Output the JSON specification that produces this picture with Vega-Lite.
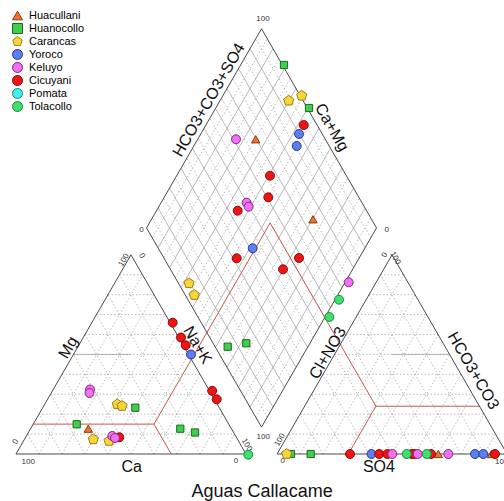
{
  "$schema": "https://vega.github.io/schema/vega-lite/v6.json",
  "width": 504,
  "height": 501,
  "autosize": "none",
  "padding": 0,
  "background": "white",
  "config": {"view": {"stroke": null}},
  "datasets": {
    "dotgrid": [
      {"x":5,"y":8.66,"x2":95,"y2":8.66},{"x":10,"y":17.32,"x2":90,"y2":17.32},{"x":15,"y":25.98,"x2":85,"y2":25.98},{"x":20,"y":34.64,"x2":80,"y2":34.64},{"x":25,"y":43.3,"x2":75,"y2":43.3},{"x":30,"y":51.96,"x2":70,"y2":51.96},{"x":35,"y":60.62,"x2":65,"y2":60.62},{"x":40,"y":69.28,"x2":60,"y2":69.28},{"x":45,"y":77.94,"x2":55,"y2":77.94},
      {"x":10,"y":0,"x2":5,"y2":8.66},{"x":20,"y":0,"x2":10,"y2":17.32},{"x":30,"y":0,"x2":15,"y2":25.98},{"x":40,"y":0,"x2":20,"y2":34.64},{"x":50,"y":0,"x2":25,"y2":43.3},{"x":60,"y":0,"x2":30,"y2":51.96},{"x":70,"y":0,"x2":35,"y2":60.62},{"x":80,"y":0,"x2":40,"y2":69.28},{"x":90,"y":0,"x2":45,"y2":77.94},
      {"x":10,"y":0,"x2":55,"y2":77.94},{"x":20,"y":0,"x2":60,"y2":69.28},{"x":30,"y":0,"x2":65,"y2":60.62},{"x":40,"y":0,"x2":70,"y2":51.96},{"x":50,"y":0,"x2":75,"y2":43.3},{"x":60,"y":0,"x2":80,"y2":34.64},{"x":70,"y":0,"x2":85,"y2":25.98},{"x":80,"y":0,"x2":90,"y2":17.32},{"x":90,"y":0,"x2":95,"y2":8.66},
      {"x":118.5,"y":8.66,"x2":208.5,"y2":8.66},{"x":123.5,"y":17.32,"x2":203.5,"y2":17.32},{"x":128.5,"y":25.98,"x2":198.5,"y2":25.98},{"x":133.5,"y":34.64,"x2":193.5,"y2":34.64},{"x":138.5,"y":43.3,"x2":188.5,"y2":43.3},{"x":143.5,"y":51.96,"x2":183.5,"y2":51.96},{"x":148.5,"y":60.62,"x2":178.5,"y2":60.62},{"x":153.5,"y":69.28,"x2":173.5,"y2":69.28},{"x":158.5,"y":77.94,"x2":168.5,"y2":77.94},
      {"x":123.5,"y":0,"x2":118.5,"y2":8.66},{"x":133.5,"y":0,"x2":123.5,"y2":17.32},{"x":143.5,"y":0,"x2":128.5,"y2":25.98},{"x":153.5,"y":0,"x2":133.5,"y2":34.64},{"x":163.5,"y":0,"x2":138.5,"y2":43.3},{"x":173.5,"y":0,"x2":143.5,"y2":51.96},{"x":183.5,"y":0,"x2":148.5,"y2":60.62},{"x":193.5,"y":0,"x2":153.5,"y2":69.28},{"x":203.5,"y":0,"x2":158.5,"y2":77.94},
      {"x":123.5,"y":0,"x2":168.5,"y2":77.94},{"x":133.5,"y":0,"x2":173.5,"y2":69.28},{"x":143.5,"y":0,"x2":178.5,"y2":60.62},{"x":153.5,"y":0,"x2":183.5,"y2":51.96},{"x":163.5,"y":0,"x2":188.5,"y2":43.3},{"x":173.5,"y":0,"x2":193.5,"y2":34.64},{"x":183.5,"y":0,"x2":198.5,"y2":25.98},{"x":193.5,"y":0,"x2":203.5,"y2":17.32},{"x":203.5,"y":0,"x2":208.5,"y2":8.66},
      {"x":104.25,"y":16.02,"x2":154.25,"y2":102.62},{"x":99.25,"y":24.68,"x2":149.25,"y2":111.28},{"x":94.25,"y":33.34,"x2":144.25,"y2":119.94},{"x":89.25,"y":42.0,"x2":139.25,"y2":128.6},{"x":84.25,"y":50.66,"x2":134.25,"y2":137.26},{"x":79.25,"y":59.32,"x2":129.25,"y2":145.92},{"x":74.25,"y":67.98,"x2":124.25,"y2":154.58},{"x":69.25,"y":76.64,"x2":119.25,"y2":163.24},{"x":64.25,"y":85.3,"x2":114.25,"y2":171.9},{"x":59.25,"y":93.96,"x2":109.25,"y2":180.56},
      {"x":109.25,"y":16.02,"x2":59.25,"y2":102.62},{"x":114.25,"y":24.68,"x2":64.25,"y2":111.28},{"x":119.25,"y":33.34,"x2":69.25,"y2":119.94},{"x":124.25,"y":42.0,"x2":74.25,"y2":128.6},{"x":129.25,"y":50.66,"x2":79.25,"y2":137.26},{"x":134.25,"y":59.32,"x2":84.25,"y2":145.92},{"x":139.25,"y":67.98,"x2":89.25,"y2":154.58},{"x":144.25,"y":76.64,"x2":94.25,"y2":163.24},{"x":149.25,"y":85.3,"x2":99.25,"y2":171.9},{"x":154.25,"y":93.96,"x2":104.25,"y2":180.56}
    ],
    "solidgrid": [
      {"x":101.75,"y":20.35,"x2":151.75,"y2":106.95},{"x":96.75,"y":29.01,"x2":146.75,"y2":115.61},{"x":91.75,"y":37.67,"x2":141.75,"y2":124.27},{"x":86.75,"y":46.33,"x2":136.75,"y2":132.93},{"x":81.75,"y":54.99,"x2":131.75,"y2":141.59},{"x":76.75,"y":63.65,"x2":126.75,"y2":150.25},{"x":71.75,"y":72.31,"x2":121.75,"y2":158.91},{"x":66.75,"y":80.97,"x2":116.75,"y2":167.57},{"x":61.75,"y":89.63,"x2":111.75,"y2":176.23},
      {"x":111.75,"y":20.35,"x2":61.75,"y2":106.95},{"x":116.75,"y":29.01,"x2":66.75,"y2":115.61},{"x":121.75,"y":37.67,"x2":71.75,"y2":124.27},{"x":126.75,"y":46.33,"x2":76.75,"y2":132.93},{"x":131.75,"y":54.99,"x2":81.75,"y2":141.59},{"x":136.75,"y":63.65,"x2":86.75,"y2":150.25},{"x":141.75,"y":72.31,"x2":91.75,"y2":158.91},{"x":146.75,"y":80.97,"x2":96.75,"y2":167.57},{"x":151.75,"y":89.63,"x2":101.75,"y2":176.23},
      {"x":25,"y":43.3,"x2":50,"y2":43.3},{"x":163.5,"y":43.3,"x2":188.5,"y2":43.3}
    ],
    "outline": [
      {"x":0,"y":0,"x2":100,"y2":0},{"x":0,"y":0,"x2":50,"y2":86.6},{"x":100,"y":0,"x2":50,"y2":86.6},
      {"x":113.5,"y":0,"x2":213.5,"y2":0},{"x":113.5,"y":0,"x2":163.5,"y2":86.6},{"x":213.5,"y":0,"x2":163.5,"y2":86.6},
      {"x":106.75,"y":11.69,"x2":56.75,"y2":98.29},{"x":56.75,"y":98.29,"x2":106.75,"y2":184.89},{"x":106.75,"y":184.89,"x2":156.75,"y2":98.29},{"x":156.75,"y":98.29,"x2":106.75,"y2":11.69}
    ],
    "red": [
      {"x":7.5,"y":12.99,"x2":60,"y2":12.99},{"x":60,"y":12.99,"x2":67.5,"y2":0},{"x":60,"y":12.99,"x2":110.5,"y2":100.45},
      {"x":156.5,"y":20.78,"x2":201.5,"y2":20.78},{"x":156.5,"y":20.78,"x2":144.5,"y2":0},{"x":156.5,"y":20.78,"x2":110.5,"y2":100.45}
    ],
    "titlesUp": [
      {"t":"HCO3+CO3+SO4","x":83.9,"y":153.9},{"t":"Mg","x":22.7,"y":46.3},{"t":"Cl+NO3","x":135.6,"y":43.9}
    ],
    "titlesDown": [
      {"t":"Ca+Mg","x":137.3,"y":142.0},{"t":"Na+K","x":78.9,"y":47.4},{"t":"HCO3+CO3","x":198.8,"y":36.2}
    ],
    "titlesFlat": [
      {"t":"Ca","x":50.3,"y":-5.5},{"t":"SO4","x":157.8,"y":-5.5}
    ],
    "mainTitle": [
      {"t":"Aguas Callacame","x":107.0,"y":-16.5}
    ],
    "ticksFlat": [
      {"t":"100","x":5.3,"y":-3.3},{"t":"0","x":95.6,"y":-3.0},{"t":"0","x":116.0,"y":-3.0},{"t":"100","x":211.2,"y":-3.3},
      {"t":"100","x":107.4,"y":189.1},{"t":"0","x":54.6,"y":97.4},{"t":"0","x":161.2,"y":97.4},{"t":"100","x":107.5,"y":7.3}
    ],
    "ticksUp": [
      {"t":"0","x":0,"y":5.3},{"t":"100","x":47.0,"y":84.3},{"t":"100","x":114.8,"y":6.1},{"t":"0","x":160.4,"y":86.5}
    ],
    "ticksDown": [
      {"t":"0","x":54.6,"y":86.1},{"t":"100","x":100.3,"y":3.9},{"t":"100","x":164.8,"y":85.1}
    ],
    "samples": [
      {"g":"Huacullani","x":104.22,"y":136.83},{"g":"Huacullani","x":129.13,"y":102.04},{"g":"Huacullani","x":31.43,"y":11.0},{"g":"Huacullani","x":183.61,"y":0},{"g":"Huacullani","x":206.74,"y":0},
      {"g":"Huanocollo","x":116.52,"y":169.13},{"g":"Huanocollo","x":127.39,"y":150.43},{"g":"Huanocollo","x":92.04,"y":46.65},{"g":"Huanocollo","x":100.13,"y":48.13},{"g":"Huanocollo","x":51.87,"y":20.13},{"g":"Huanocollo","x":26.39,"y":12.91},{"g":"Huanocollo","x":71.43,"y":11.0},{"g":"Huanocollo","x":77.83,"y":9.35},{"g":"Huanocollo","x":119.57,"y":0},{"g":"Huanocollo","x":128.13,"y":0},
      {"g":"Carancas","x":124.22,"y":155.78},{"g":"Carancas","x":118.57,"y":153.61},{"g":"Carancas","x":75.22,"y":74.22},{"g":"Carancas","x":77.52,"y":69.13},{"g":"Carancas","x":44.04,"y":21.61},{"g":"Carancas","x":46.09,"y":20.87},{"g":"Carancas","x":33.61,"y":6.39},{"g":"Carancas","x":40.43,"y":5.65},{"g":"Carancas","x":117.7,"y":0},
      {"g":"Yoroco","x":123.04,"y":139.13},{"g":"Yoroco","x":122.04,"y":133.91},{"g":"Yoroco","x":102.91,"y":89.43},{"g":"Yoroco","x":76.09,"y":43.26},{"g":"Yoroco","x":154.57,"y":0},{"g":"Yoroco","x":199.57,"y":0},{"g":"Yoroco","x":203.17,"y":0},
      {"g":"Cicuyani","x":125.09,"y":143.04},{"g":"Cicuyani","x":110.43,"y":121.0},{"g":"Cicuyani","x":109.7,"y":111.61},{"g":"Cicuyani","x":96.39,"y":105.78},{"g":"Cicuyani","x":95.96,"y":85.09},{"g":"Cicuyani","x":123.04,"y":85.22},{"g":"Cicuyani","x":116.09,"y":80.3},{"g":"Cicuyani","x":68.13,"y":57.09},{"g":"Cicuyani","x":71.74,"y":50.65},{"g":"Cicuyani","x":73.78,"y":47.26},{"g":"Cicuyani","x":85.3,"y":27.48},{"g":"Cicuyani","x":87.26,"y":23.78},{"g":"Cicuyani","x":44.91,"y":7.26},{"g":"Cicuyani","x":145.22,"y":0},{"g":"Cicuyani","x":157.91,"y":0},{"g":"Cicuyani","x":161.52,"y":0},{"g":"Cicuyani","x":172.04,"y":0},{"g":"Cicuyani","x":173.26,"y":0},{"g":"Cicuyani","x":180.43,"y":0},{"g":"Cicuyani","x":208.26,"y":0},
      {"g":"Keluyo","x":95.65,"y":136.83},{"g":"Keluyo","x":100.3,"y":109.26},{"g":"Keluyo","x":101.17,"y":107.52},{"g":"Keluyo","x":144.65,"y":74.65},{"g":"Keluyo","x":32.17,"y":28.04},{"g":"Keluyo","x":31.96,"y":26.52},{"g":"Keluyo","x":41.87,"y":7.83},{"g":"Keluyo","x":43.04,"y":6.96},{"g":"Keluyo","x":163.61,"y":0},{"g":"Keluyo","x":174.65,"y":0},{"g":"Keluyo","x":187.96,"y":0},
      {"g":"Tolacollo","x":140.43,"y":67.09},{"g":"Tolacollo","x":136.22,"y":59.57},{"g":"Tolacollo","x":101.0,"y":-0.3},{"g":"Tolacollo","x":169.87,"y":0},{"g":"Tolacollo","x":178.57,"y":0}
    ]
  },
  "encoding": {
    "x": {"field": "x", "type": "quantitative", "axis": null, "scale": {"domain": [-6.9565, 212.1739], "nice": false, "zero": false}},
    "y": {"field": "y", "type": "quantitative", "axis": null, "scale": {"domain": [-20.4348, 197.3913], "nice": false, "zero": false}}
  },
  "layer": [
    {"data": {"name": "dotgrid"}, "mark": {"type": "rule", "color": "#a8a8a8", "strokeWidth": 0.8, "strokeDash": [1.5, 2]},
     "encoding": {"x2": {"field": "x2"}, "y2": {"field": "y2"}}},
    {"data": {"name": "solidgrid"}, "mark": {"type": "rule", "color": "#9a9a9a", "strokeWidth": 0.7},
     "encoding": {"x2": {"field": "x2"}, "y2": {"field": "y2"}}},
    {"data": {"name": "red"}, "mark": {"type": "rule", "color": "#c9554f", "strokeWidth": 1},
     "encoding": {"x2": {"field": "x2"}, "y2": {"field": "y2"}}},
    {"data": {"name": "outline"}, "mark": {"type": "rule", "color": "#4a4a4a", "strokeWidth": 1},
     "encoding": {"x2": {"field": "x2"}, "y2": {"field": "y2"}}},
    {"data": {"name": "titlesUp"}, "mark": {"type": "text", "angle": -60, "font": "Liberation Sans", "fontSize": 16, "color": "#111", "align": "center", "baseline": "middle"},
     "encoding": {"text": {"field": "t"}}},
    {"data": {"name": "titlesDown"}, "mark": {"type": "text", "angle": 60, "font": "Liberation Sans", "fontSize": 16, "color": "#111", "align": "center", "baseline": "middle"},
     "encoding": {"text": {"field": "t"}}},
    {"data": {"name": "titlesFlat"}, "mark": {"type": "text", "font": "Liberation Sans", "fontSize": 16, "color": "#111", "align": "center", "baseline": "middle"},
     "encoding": {"text": {"field": "t"}}},
    {"data": {"name": "mainTitle"}, "mark": {"type": "text", "font": "Liberation Sans", "fontSize": 18, "color": "#111", "align": "center", "baseline": "middle"},
     "encoding": {"text": {"field": "t"}}},
    {"data": {"name": "ticksFlat"}, "mark": {"type": "text", "font": "Liberation Sans", "fontSize": 8, "color": "#333", "align": "center", "baseline": "middle"},
     "encoding": {"text": {"field": "t"}}},
    {"data": {"name": "ticksUp"}, "mark": {"type": "text", "angle": -60, "font": "Liberation Sans", "fontSize": 8, "color": "#333", "align": "center", "baseline": "middle"},
     "encoding": {"text": {"field": "t"}}},
    {"data": {"name": "ticksDown"}, "mark": {"type": "text", "angle": 60, "font": "Liberation Sans", "fontSize": 8, "color": "#333", "align": "center", "baseline": "middle"},
     "encoding": {"text": {"field": "t"}}},
    {"data": {"name": "samples"},
     "encoding": {
       "fill": {"field": "g", "type": "nominal",
         "scale": {"domain": ["Huacullani","Huanocollo","Carancas","Yoroco","Keluyo","Cicuyani","Pomata","Tolacollo"],
                   "range": ["#f07232","#3fcf4c","#f6d53c","#5b7ef0","#f072f0","#f01414","#44eeee","#3fe06e"]},
         "legend": {"title": null, "orient": "none", "legendX": 12, "legendY": 9, "labelFont": "Liberation Sans", "labelFontSize": 11, "rowPadding": 0, "clipHeight": 13, "labelOffset": 6, "symbolStrokeWidth": 1,
           "encode": {
             "labels": {"update": {"fill": {"signal": "['#9a4a1e','#2a7a30','#a88a10','#2c40b0','#a02ea0','#a01818','#1c9a9a','#1f7a3a'][indexof(['Huacullani','Huanocollo','Carancas','Yoroco','Keluyo','Cicuyani','Pomata','Tolacollo'], datum.label)]"}}},
             "symbols": {"update": {"stroke": {"scale": "stroke", "field": "value"}, "size": {"signal": "[70,52,115,80,80,80,80,80][indexof(['Huacullani','Huanocollo','Carancas','Yoroco','Keluyo','Cicuyani','Pomata','Tolacollo'], datum.value)]"}}}
           }}},
       "shape": {"field": "g", "type": "nominal",
         "scale": {"domain": ["Huacullani","Huanocollo","Carancas","Yoroco","Keluyo","Cicuyani","Pomata","Tolacollo"],
                   "range": ["triangle-up","square","M0,-1L0.951,-0.309L0.588,0.809L-0.588,0.809L-0.951,-0.309Z","circle","circle","circle","circle","circle"]}},
       "stroke": {"field": "g", "type": "nominal",
         "scale": {"domain": ["Huacullani","Huanocollo","Carancas","Yoroco","Keluyo","Cicuyani","Pomata","Tolacollo"],
                   "range": ["#8a3a10","#1a6a22","#9a8210","#2a3a90","#8a228a","#8a0a0a","#1a8a8a","#168a3a"]},
         "legend": null}
     },
     "layer": [
       {"transform": [{"filter": "datum.g === 'Huacullani'"}], "mark": {"type": "point", "filled": true, "size": 70, "strokeWidth": 1, "opacity": 1}},
       {"transform": [{"filter": "datum.g === 'Huanocollo'"}], "mark": {"type": "point", "filled": true, "size": 52, "strokeWidth": 1, "opacity": 1}},
       {"transform": [{"filter": "datum.g === 'Carancas'"}], "mark": {"type": "point", "filled": true, "size": 115, "strokeWidth": 1, "opacity": 1}},
       {"transform": [{"filter": "datum.g !== 'Huacullani' && datum.g !== 'Huanocollo' && datum.g !== 'Carancas'"}], "mark": {"type": "point", "filled": true, "size": 80, "strokeWidth": 1, "opacity": 1}}
     ]}
  ]
}
